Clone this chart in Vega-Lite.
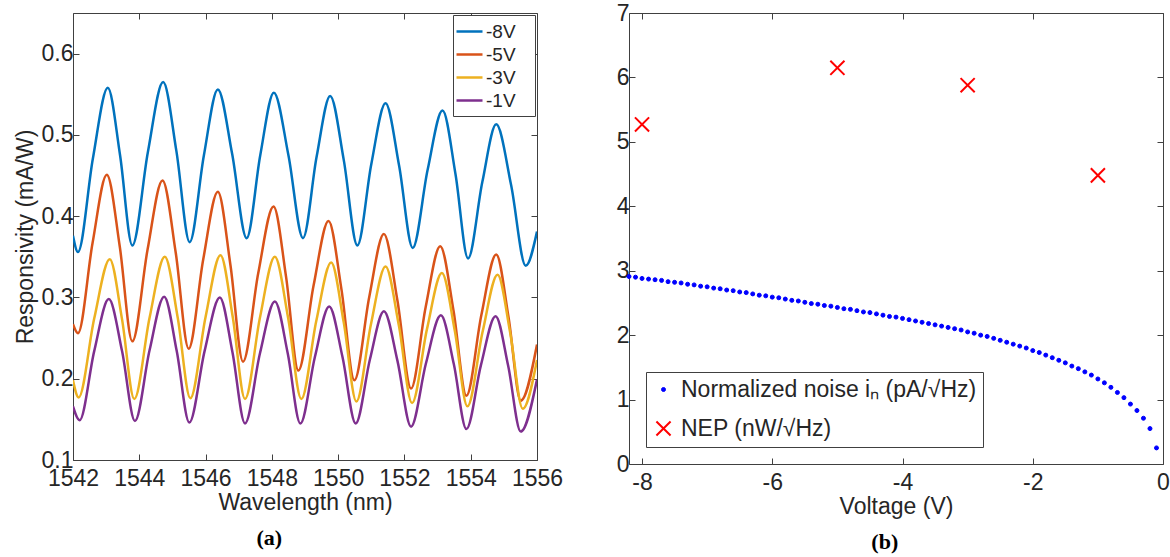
{
  "$schema": "https://vega.github.io/schema/vega-lite/v6.json",
  "background": "white",
  "padding": {"left": 13, "top": 1, "right": 0, "bottom": 0},
  "spacing": 51,
  "columns": 2,
  "align": "none",
  "resolve": {
    "scale": {"color": "independent", "shape": "independent", "fill": "independent", "stroke": "independent", "size": "independent", "strokeWidth": "independent"},
    "legend": {"color": "independent", "shape": "independent", "fill": "independent", "stroke": "independent", "size": "independent", "strokeWidth": "independent"}
  },
  "config": {
    "font": "Liberation Sans",
    "view": {"stroke": "#404040", "strokeWidth": 1},
    "axis": {
      "labelFont": "Liberation Sans", "labelFontSize": 23, "labelColor": "#262626",
      "titleFont": "Liberation Sans", "titleFontSize": 23, "titleFontWeight": "normal", "titleColor": "#262626",
      "grid": false, "domain": false, "tickColor": "#404040", "tickSize": -6, "labelPadding": 6, "labelFlush": false, "titlePadding": 4
    },
    "axisBottom": {"labelPadding": 13, "titlePadding": 1}
  },
  "concat": [
    {
      "width": 464, "height": 447,
      "title": {"text": "(a)", "orient": "bottom", "anchor": "middle", "frame": "bounds", "font": "Liberation Serif", "fontSize": 22, "fontWeight": "bold", "color": "#000000", "offset": 14, "dx": -19},
      "data": {"values": [
        {"w":1542.0,"r":0.376,"s":"-8V"},{"w":1542.15,"r":0.356,"s":"-8V"},{"w":1542.6,"r":0.471,"s":"-8V"},{"w":1543.05,"r":0.558,"s":"-8V"},{"w":1543.42,"r":0.475,"s":"-8V"},{"w":1543.79,"r":0.364,"s":"-8V"},{"w":1544.26,"r":0.479,"s":"-8V"},{"w":1544.72,"r":0.565,"s":"-8V"},{"w":1545.12,"r":0.48,"s":"-8V"},{"w":1545.52,"r":0.368,"s":"-8V"},{"w":1545.95,"r":0.475,"s":"-8V"},{"w":1546.37,"r":0.556,"s":"-8V"},{"w":1546.8,"r":0.477,"s":"-8V"},{"w":1547.24,"r":0.373,"s":"-8V"},{"w":1547.65,"r":0.475,"s":"-8V"},{"w":1548.06,"r":0.552,"s":"-8V"},{"w":1548.5,"r":0.475,"s":"-8V"},{"w":1548.94,"r":0.373,"s":"-8V"},{"w":1549.35,"r":0.473,"s":"-8V"},{"w":1549.76,"r":0.548,"s":"-8V"},{"w":1550.17,"r":0.469,"s":"-8V"},{"w":1550.58,"r":0.364,"s":"-8V"},{"w":1551.0,"r":0.464,"s":"-8V"},{"w":1551.43,"r":0.539,"s":"-8V"},{"w":1551.84,"r":0.462,"s":"-8V"},{"w":1552.25,"r":0.361,"s":"-8V"},{"w":1552.7,"r":0.457,"s":"-8V"},{"w":1553.15,"r":0.53,"s":"-8V"},{"w":1553.54,"r":0.452,"s":"-8V"},{"w":1553.92,"r":0.348,"s":"-8V"},{"w":1554.35,"r":0.442,"s":"-8V"},{"w":1554.77,"r":0.513,"s":"-8V"},{"w":1555.22,"r":0.438,"s":"-8V"},{"w":1555.66,"r":0.339,"s":"-8V"},{"w":1556.0,"r":0.381,"s":"-8V"},
        {"w":1542.0,"r":0.267,"s":"-5V"},{"w":1542.15,"r":0.256,"s":"-5V"},{"w":1542.59,"r":0.367,"s":"-5V"},{"w":1543.02,"r":0.451,"s":"-5V"},{"w":1543.41,"r":0.363,"s":"-5V"},{"w":1543.79,"r":0.246,"s":"-5V"},{"w":1544.25,"r":0.359,"s":"-5V"},{"w":1544.7,"r":0.444,"s":"-5V"},{"w":1545.1,"r":0.355,"s":"-5V"},{"w":1545.49,"r":0.237,"s":"-5V"},{"w":1545.93,"r":0.347,"s":"-5V"},{"w":1546.37,"r":0.43,"s":"-5V"},{"w":1546.75,"r":0.34,"s":"-5V"},{"w":1547.13,"r":0.221,"s":"-5V"},{"w":1547.59,"r":0.33,"s":"-5V"},{"w":1548.05,"r":0.412,"s":"-5V"},{"w":1548.43,"r":0.325,"s":"-5V"},{"w":1548.8,"r":0.21,"s":"-5V"},{"w":1549.26,"r":0.315,"s":"-5V"},{"w":1549.71,"r":0.394,"s":"-5V"},{"w":1550.1,"r":0.31,"s":"-5V"},{"w":1550.49,"r":0.198,"s":"-5V"},{"w":1550.94,"r":0.301,"s":"-5V"},{"w":1551.38,"r":0.378,"s":"-5V"},{"w":1551.79,"r":0.296,"s":"-5V"},{"w":1552.2,"r":0.188,"s":"-5V"},{"w":1552.64,"r":0.288,"s":"-5V"},{"w":1553.08,"r":0.363,"s":"-5V"},{"w":1553.48,"r":0.284,"s":"-5V"},{"w":1553.87,"r":0.179,"s":"-5V"},{"w":1554.32,"r":0.278,"s":"-5V"},{"w":1554.77,"r":0.353,"s":"-5V"},{"w":1555.14,"r":0.276,"s":"-5V"},{"w":1555.51,"r":0.173,"s":"-5V"},{"w":1556.0,"r":0.242,"s":"-5V"},
        {"w":1542.0,"r":0.198,"s":"-3V"},{"w":1542.17,"r":0.177,"s":"-3V"},{"w":1542.64,"r":0.274,"s":"-3V"},{"w":1543.11,"r":0.347,"s":"-3V"},{"w":1543.48,"r":0.273,"s":"-3V"},{"w":1543.85,"r":0.175,"s":"-3V"},{"w":1544.31,"r":0.275,"s":"-3V"},{"w":1544.77,"r":0.35,"s":"-3V"},{"w":1545.16,"r":0.275,"s":"-3V"},{"w":1545.54,"r":0.176,"s":"-3V"},{"w":1546.0,"r":0.276,"s":"-3V"},{"w":1546.45,"r":0.352,"s":"-3V"},{"w":1546.82,"r":0.276,"s":"-3V"},{"w":1547.19,"r":0.175,"s":"-3V"},{"w":1547.64,"r":0.275,"s":"-3V"},{"w":1548.09,"r":0.35,"s":"-3V"},{"w":1548.49,"r":0.275,"s":"-3V"},{"w":1548.89,"r":0.175,"s":"-3V"},{"w":1549.34,"r":0.271,"s":"-3V"},{"w":1549.79,"r":0.343,"s":"-3V"},{"w":1550.17,"r":0.269,"s":"-3V"},{"w":1550.55,"r":0.172,"s":"-3V"},{"w":1550.99,"r":0.267,"s":"-3V"},{"w":1551.43,"r":0.338,"s":"-3V"},{"w":1551.83,"r":0.266,"s":"-3V"},{"w":1552.23,"r":0.17,"s":"-3V"},{"w":1552.68,"r":0.261,"s":"-3V"},{"w":1553.13,"r":0.33,"s":"-3V"},{"w":1553.52,"r":0.259,"s":"-3V"},{"w":1553.9,"r":0.166,"s":"-3V"},{"w":1554.36,"r":0.258,"s":"-3V"},{"w":1554.81,"r":0.328,"s":"-3V"},{"w":1555.19,"r":0.257,"s":"-3V"},{"w":1555.57,"r":0.163,"s":"-3V"},{"w":1556.0,"r":0.223,"s":"-3V"},
        {"w":1542.0,"r":0.166,"s":"-1V"},{"w":1542.2,"r":0.149,"s":"-1V"},{"w":1542.64,"r":0.234,"s":"-1V"},{"w":1543.08,"r":0.298,"s":"-1V"},{"w":1543.48,"r":0.234,"s":"-1V"},{"w":1543.87,"r":0.148,"s":"-1V"},{"w":1544.31,"r":0.235,"s":"-1V"},{"w":1544.75,"r":0.301,"s":"-1V"},{"w":1545.13,"r":0.234,"s":"-1V"},{"w":1545.51,"r":0.146,"s":"-1V"},{"w":1545.97,"r":0.234,"s":"-1V"},{"w":1546.43,"r":0.3,"s":"-1V"},{"w":1546.81,"r":0.233,"s":"-1V"},{"w":1547.19,"r":0.145,"s":"-1V"},{"w":1547.64,"r":0.231,"s":"-1V"},{"w":1548.09,"r":0.295,"s":"-1V"},{"w":1548.48,"r":0.231,"s":"-1V"},{"w":1548.86,"r":0.145,"s":"-1V"},{"w":1549.3,"r":0.227,"s":"-1V"},{"w":1549.73,"r":0.289,"s":"-1V"},{"w":1550.13,"r":0.227,"s":"-1V"},{"w":1550.53,"r":0.145,"s":"-1V"},{"w":1550.96,"r":0.224,"s":"-1V"},{"w":1551.38,"r":0.283,"s":"-1V"},{"w":1551.79,"r":0.222,"s":"-1V"},{"w":1552.2,"r":0.141,"s":"-1V"},{"w":1552.65,"r":0.219,"s":"-1V"},{"w":1553.1,"r":0.278,"s":"-1V"},{"w":1553.49,"r":0.218,"s":"-1V"},{"w":1553.87,"r":0.138,"s":"-1V"},{"w":1554.31,"r":0.217,"s":"-1V"},{"w":1554.75,"r":0.277,"s":"-1V"},{"w":1555.13,"r":0.216,"s":"-1V"},{"w":1555.51,"r":0.135,"s":"-1V"},{"w":1556.0,"r":0.199,"s":"-1V"}
      ]},
      "layer": [
        {
          "mark": {"type": "line", "strokeWidth": 2.5, "interpolate": "monotone", "clip": true},
          "encoding": {
            "x": {"field": "w", "type": "quantitative", "scale": {"domain": [1542, 1556], "nice": false, "zero": false},
                  "axis": {"orient": "bottom", "values": [1542, 1544, 1546, 1548, 1550, 1552, 1554, 1556], "format": "d", "title": "Wavelength (nm)"}},
            "y": {"field": "r", "type": "quantitative", "scale": {"domain": [0.1, 0.65], "nice": false, "zero": false},
                  "axis": {"orient": "left", "values": [0.1, 0.2, 0.3, 0.4, 0.5, 0.6], "format": ".1f", "title": "Responsivity (mA/W)"}},
            "color": {"field": "s", "type": "nominal",
                      "scale": {"domain": ["-8V", "-5V", "-3V", "-1V"], "range": ["#0072BD", "#D95319", "#EDB120", "#7E2F8E"]},
                      "legend": {"title": null, "orient": "top-right", "offset": 2, "padding": 5, "strokeColor": "#404040", "fillColor": "white",
                                 "symbolType": "M-1.3,0L1.3,0", "symbolSize": 400, "symbolStrokeWidth": 2.5, "labelFontSize": 19, "labelColor": "#262626",
                                 "labelOffset": 5, "rowPadding": 1, "cornerRadius": 0, "labelExpr": "datum.label + '\u2800'"}}
          }
        },
        {
          "data": {"values": [{}]},
          "mark": {"type": "point", "opacity": 0},
          "encoding": {
            "x": {"datum": 1549, "type": "quantitative", "axis": {"orient": "top", "values": [1542, 1544, 1546, 1548, 1550, 1552, 1554, 1556], "labels": false, "title": null}},
            "y": {"datum": 0.3, "type": "quantitative", "axis": {"orient": "right", "values": [0.1, 0.2, 0.3, 0.4, 0.5, 0.6], "labels": false, "title": null}}
          }
        }
      ],
      "resolve": {"axis": {"x": "independent", "y": "independent"}}
    },
    {
      "width": 534, "height": 451,
      "title": {"text": "(b)", "orient": "bottom", "anchor": "middle", "frame": "bounds", "font": "Liberation Serif", "fontSize": 22, "fontWeight": "bold", "color": "#000000", "offset": 14, "dx": -8},
      "data": {"values": [
        {"v":-8.2,"n":2.91,"s":"Normalized noise iₙ (pA/√Hz)"},{"v":-8.1,"n":2.9,"s":"Normalized noise iₙ (pA/√Hz)"},{"v":-8.0,"n":2.88,"s":"Normalized noise iₙ (pA/√Hz)"},{"v":-7.9,"n":2.87,"s":"Normalized noise iₙ (pA/√Hz)"},{"v":-7.8,"n":2.86,"s":"Normalized noise iₙ (pA/√Hz)"},{"v":-7.7,"n":2.85,"s":"Normalized noise iₙ (pA/√Hz)"},{"v":-7.6,"n":2.83,"s":"Normalized noise iₙ (pA/√Hz)"},{"v":-7.5,"n":2.82,"s":"Normalized noise iₙ (pA/√Hz)"},{"v":-7.4,"n":2.81,"s":"Normalized noise iₙ (pA/√Hz)"},{"v":-7.3,"n":2.79,"s":"Normalized noise iₙ (pA/√Hz)"},
        {"v":-7.2,"n":2.78,"s":"Normalized noise iₙ (pA/√Hz)"},{"v":-7.1,"n":2.76,"s":"Normalized noise iₙ (pA/√Hz)"},{"v":-7.0,"n":2.75,"s":"Normalized noise iₙ (pA/√Hz)"},{"v":-6.9,"n":2.73,"s":"Normalized noise iₙ (pA/√Hz)"},{"v":-6.8,"n":2.72,"s":"Normalized noise iₙ (pA/√Hz)"},{"v":-6.7,"n":2.7,"s":"Normalized noise iₙ (pA/√Hz)"},{"v":-6.6,"n":2.69,"s":"Normalized noise iₙ (pA/√Hz)"},{"v":-6.5,"n":2.67,"s":"Normalized noise iₙ (pA/√Hz)"},{"v":-6.4,"n":2.66,"s":"Normalized noise iₙ (pA/√Hz)"},{"v":-6.3,"n":2.64,"s":"Normalized noise iₙ (pA/√Hz)"},
        {"v":-6.2,"n":2.62,"s":"Normalized noise iₙ (pA/√Hz)"},{"v":-6.1,"n":2.61,"s":"Normalized noise iₙ (pA/√Hz)"},{"v":-6.0,"n":2.59,"s":"Normalized noise iₙ (pA/√Hz)"},{"v":-5.9,"n":2.58,"s":"Normalized noise iₙ (pA/√Hz)"},{"v":-5.8,"n":2.56,"s":"Normalized noise iₙ (pA/√Hz)"},{"v":-5.7,"n":2.54,"s":"Normalized noise iₙ (pA/√Hz)"},{"v":-5.6,"n":2.53,"s":"Normalized noise iₙ (pA/√Hz)"},{"v":-5.5,"n":2.51,"s":"Normalized noise iₙ (pA/√Hz)"},{"v":-5.4,"n":2.49,"s":"Normalized noise iₙ (pA/√Hz)"},{"v":-5.3,"n":2.48,"s":"Normalized noise iₙ (pA/√Hz)"},
        {"v":-5.2,"n":2.46,"s":"Normalized noise iₙ (pA/√Hz)"},{"v":-5.1,"n":2.45,"s":"Normalized noise iₙ (pA/√Hz)"},{"v":-5.0,"n":2.43,"s":"Normalized noise iₙ (pA/√Hz)"},{"v":-4.9,"n":2.41,"s":"Normalized noise iₙ (pA/√Hz)"},{"v":-4.8,"n":2.4,"s":"Normalized noise iₙ (pA/√Hz)"},{"v":-4.7,"n":2.38,"s":"Normalized noise iₙ (pA/√Hz)"},{"v":-4.6,"n":2.36,"s":"Normalized noise iₙ (pA/√Hz)"},{"v":-4.5,"n":2.35,"s":"Normalized noise iₙ (pA/√Hz)"},{"v":-4.4,"n":2.33,"s":"Normalized noise iₙ (pA/√Hz)"},{"v":-4.3,"n":2.31,"s":"Normalized noise iₙ (pA/√Hz)"},
        {"v":-4.2,"n":2.29,"s":"Normalized noise iₙ (pA/√Hz)"},{"v":-4.1,"n":2.28,"s":"Normalized noise iₙ (pA/√Hz)"},{"v":-4.0,"n":2.26,"s":"Normalized noise iₙ (pA/√Hz)"},{"v":-3.9,"n":2.24,"s":"Normalized noise iₙ (pA/√Hz)"},{"v":-3.8,"n":2.22,"s":"Normalized noise iₙ (pA/√Hz)"},{"v":-3.7,"n":2.2,"s":"Normalized noise iₙ (pA/√Hz)"},{"v":-3.6,"n":2.18,"s":"Normalized noise iₙ (pA/√Hz)"},{"v":-3.5,"n":2.16,"s":"Normalized noise iₙ (pA/√Hz)"},{"v":-3.4,"n":2.14,"s":"Normalized noise iₙ (pA/√Hz)"},{"v":-3.3,"n":2.12,"s":"Normalized noise iₙ (pA/√Hz)"},
        {"v":-3.2,"n":2.1,"s":"Normalized noise iₙ (pA/√Hz)"},{"v":-3.1,"n":2.08,"s":"Normalized noise iₙ (pA/√Hz)"},{"v":-3.0,"n":2.05,"s":"Normalized noise iₙ (pA/√Hz)"},{"v":-2.9,"n":2.03,"s":"Normalized noise iₙ (pA/√Hz)"},{"v":-2.8,"n":2.0,"s":"Normalized noise iₙ (pA/√Hz)"},{"v":-2.7,"n":1.98,"s":"Normalized noise iₙ (pA/√Hz)"},{"v":-2.6,"n":1.95,"s":"Normalized noise iₙ (pA/√Hz)"},{"v":-2.5,"n":1.92,"s":"Normalized noise iₙ (pA/√Hz)"},{"v":-2.4,"n":1.89,"s":"Normalized noise iₙ (pA/√Hz)"},{"v":-2.3,"n":1.86,"s":"Normalized noise iₙ (pA/√Hz)"},
        {"v":-2.2,"n":1.83,"s":"Normalized noise iₙ (pA/√Hz)"},{"v":-2.1,"n":1.8,"s":"Normalized noise iₙ (pA/√Hz)"},{"v":-2.0,"n":1.76,"s":"Normalized noise iₙ (pA/√Hz)"},{"v":-1.9,"n":1.73,"s":"Normalized noise iₙ (pA/√Hz)"},{"v":-1.8,"n":1.69,"s":"Normalized noise iₙ (pA/√Hz)"},{"v":-1.7,"n":1.65,"s":"Normalized noise iₙ (pA/√Hz)"},{"v":-1.6,"n":1.61,"s":"Normalized noise iₙ (pA/√Hz)"},{"v":-1.5,"n":1.57,"s":"Normalized noise iₙ (pA/√Hz)"},{"v":-1.4,"n":1.52,"s":"Normalized noise iₙ (pA/√Hz)"},{"v":-1.3,"n":1.48,"s":"Normalized noise iₙ (pA/√Hz)"},
        {"v":-1.2,"n":1.43,"s":"Normalized noise iₙ (pA/√Hz)"},{"v":-1.1,"n":1.38,"s":"Normalized noise iₙ (pA/√Hz)"},{"v":-1.0,"n":1.32,"s":"Normalized noise iₙ (pA/√Hz)"},{"v":-0.9,"n":1.26,"s":"Normalized noise iₙ (pA/√Hz)"},{"v":-0.8,"n":1.19,"s":"Normalized noise iₙ (pA/√Hz)"},{"v":-0.7,"n":1.11,"s":"Normalized noise iₙ (pA/√Hz)"},{"v":-0.6,"n":1.03,"s":"Normalized noise iₙ (pA/√Hz)"},{"v":-0.5,"n":0.93,"s":"Normalized noise iₙ (pA/√Hz)"},{"v":-0.4,"n":0.83,"s":"Normalized noise iₙ (pA/√Hz)"},{"v":-0.3,"n":0.71,"s":"Normalized noise iₙ (pA/√Hz)"},
        {"v":-0.2,"n":0.55,"s":"Normalized noise iₙ (pA/√Hz)"},{"v":-0.1,"n":0.25,"s":"Normalized noise iₙ (pA/√Hz)"},
        {"v":-8,"n":5.27,"s":"NEP (nW/√Hz)"},{"v":-5,"n":6.15,"s":"NEP (nW/√Hz)"},{"v":-3,"n":5.88,"s":"NEP (nW/√Hz)"},{"v":-1,"n":4.48,"s":"NEP (nW/√Hz)"}
      ]},
      "layer": [
        {
          "mark": {"type": "point", "opacity": 1},
          "encoding": {
            "x": {"field": "v", "type": "quantitative", "scale": {"domain": [-8.2, 0], "nice": false, "zero": false},
                  "axis": {"orient": "bottom", "values": [-8, -6, -4, -2, 0], "labelExpr": "'' + datum.value", "title": "Voltage (V)"}},
            "y": {"field": "n", "type": "quantitative", "scale": {"domain": [0, 7], "nice": false},
                  "axis": {"orient": "left", "values": [0, 1, 2, 3, 4, 5, 6, 7], "title": null}},
            "shape": {"field": "s", "type": "nominal",
                      "scale": {"domain": ["Normalized noise iₙ (pA/√Hz)", "NEP (nW/√Hz)"], "range": ["circle", "M-1,-1L1,1M-1,1L1,-1"]},
                      "legend": {"title": null, "orient": "bottom-left", "offset": 17, "padding": 6, "strokeColor": "#404040", "fillColor": "white",
                                 "labelFontSize": 23, "labelLimit": 0, "labelColor": "#262626", "labelOffset": 6, "rowPadding": 15, "cornerRadius": 0}},
            "fill": {"field": "s", "type": "nominal", "scale": {"domain": ["Normalized noise iₙ (pA/√Hz)", "NEP (nW/√Hz)"], "range": ["#0000FF", "transparent"]}},
            "stroke": {"field": "s", "type": "nominal", "scale": {"domain": ["Normalized noise iₙ (pA/√Hz)", "NEP (nW/√Hz)"], "range": ["#0000FF", "#FF0000"]}},
            "size": {"field": "s", "type": "nominal", "scale": {"domain": ["Normalized noise iₙ (pA/√Hz)", "NEP (nW/√Hz)"], "range": [16, 200]}},
            "strokeWidth": {"field": "s", "type": "nominal", "scale": {"domain": ["Normalized noise iₙ (pA/√Hz)", "NEP (nW/√Hz)"], "range": [1, 2]}}
          }
        },
        {
          "data": {"values": [{}]},
          "mark": {"type": "point", "opacity": 0},
          "encoding": {
            "x": {"datum": -4, "type": "quantitative", "axis": {"orient": "top", "values": [-8, -6, -4, -2, 0], "labels": false, "title": null}},
            "y": {"datum": 3, "type": "quantitative", "axis": {"orient": "right", "values": [0, 1, 2, 3, 4, 5, 6, 7], "labels": false, "title": null}}
          }
        }
      ],
      "resolve": {"axis": {"x": "independent", "y": "independent"}}
    }
  ]
}
